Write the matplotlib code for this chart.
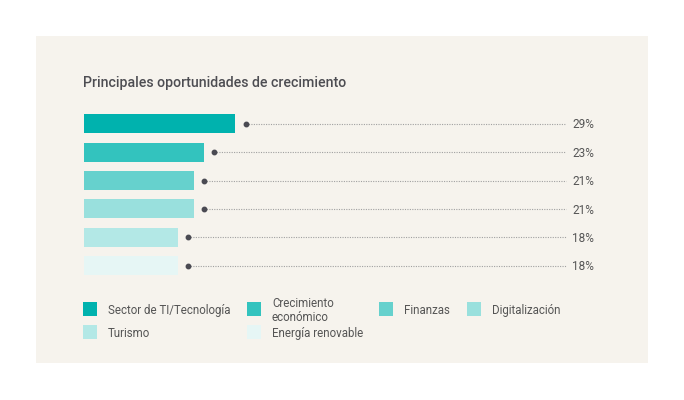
import matplotlib.pyplot as plt
from matplotlib.patches import Rectangle

plt.rcParams['font.family'] = ['Roboto', 'DejaVu Sans']

categories = ['Sector de TI/Tecnología', 'Crecimiento\neconómico', 'Finanzas',
              'Digitalización', 'Turismo', 'Energía renovable']
values = [29, 23, 21, 21, 18, 18]
labels = ['29%', '23%', '21%', '21%', '18%', '18%']
colors = ['#00b2ae', '#33c3be', '#66d1cd', '#99e0dd', '#b3e8e6', '#e6f6f5']

W, H = 684, 400
fig = plt.figure(figsize=(W / 100, H / 100), dpi=100)
fig.patch.set_facecolor('white')

def fx(px):
    return px / W

def fy(py):
    return 1 - py / H

# beige panel
fig.patches.append(Rectangle((fx(36), fy(363)), 612 / W, 327 / H,
                             transform=fig.transFigure, facecolor='#f6f3ed',
                             edgecolor='none', zorder=-5))

fig.text(fx(83), fy(82.5), 'Principales oportunidades de crecimiento',
         fontsize=10.2, color='#4d4d52', fontweight='medium', va='center', ha='left')

px_per_pct = 5.24
ax_w = 520
row_px = 28.4
ax = fig.add_axes([fx(83.5), fy(123.7 + 5.5 * row_px), ax_w / W, 6 * row_px / H])
ax.set_facecolor('none')
ax.set_xlim(0, ax_w / px_per_pct)
ax.set_ylim(5.5, -0.5)
ax.axis('off')

ypos = list(range(len(values)))
ax.barh(ypos, values, height=0.67, color=colors, edgecolor='none')

line_end = (566 - 83.5) / px_per_pct
for y, v, lab in zip(ypos, values, labels):
    dot_x = v + 1.95
    ax.plot([dot_x, line_end], [y, y], color='#a0a0a0', lw=0.8,
            linestyle=(0, (1, 1.2)))
    ax.plot(dot_x, y, 'o', color='#4a4a52', ms=3.2)
    ax.text((572 - 83.5) / px_per_pct, y + 0.04, lab, fontsize=8.5, color='#555555',
            va='center', ha='left')

# legend laid out by hand: 4 columns, wraps to a second row
col_x = [83, 247, 379, 467, 83, 247]
row_y = [309, 309, 309, 309, 332, 332]
sq = 14
for name, c, x, y in zip(categories, colors, col_x, row_y):
    fig.patches.append(Rectangle((fx(x), fy(y + sq / 2)), sq / W, sq / H,
                                 transform=fig.transFigure, facecolor=c,
                                 edgecolor='none', zorder=1))
    fig.text(fx(x + 25), fy(y + 1.5), name, fontsize=8.3, color='#555555',
             va='center', ha='left', linespacing=1.05)

fig.savefig('out.png', dpi=100, facecolor='white')
